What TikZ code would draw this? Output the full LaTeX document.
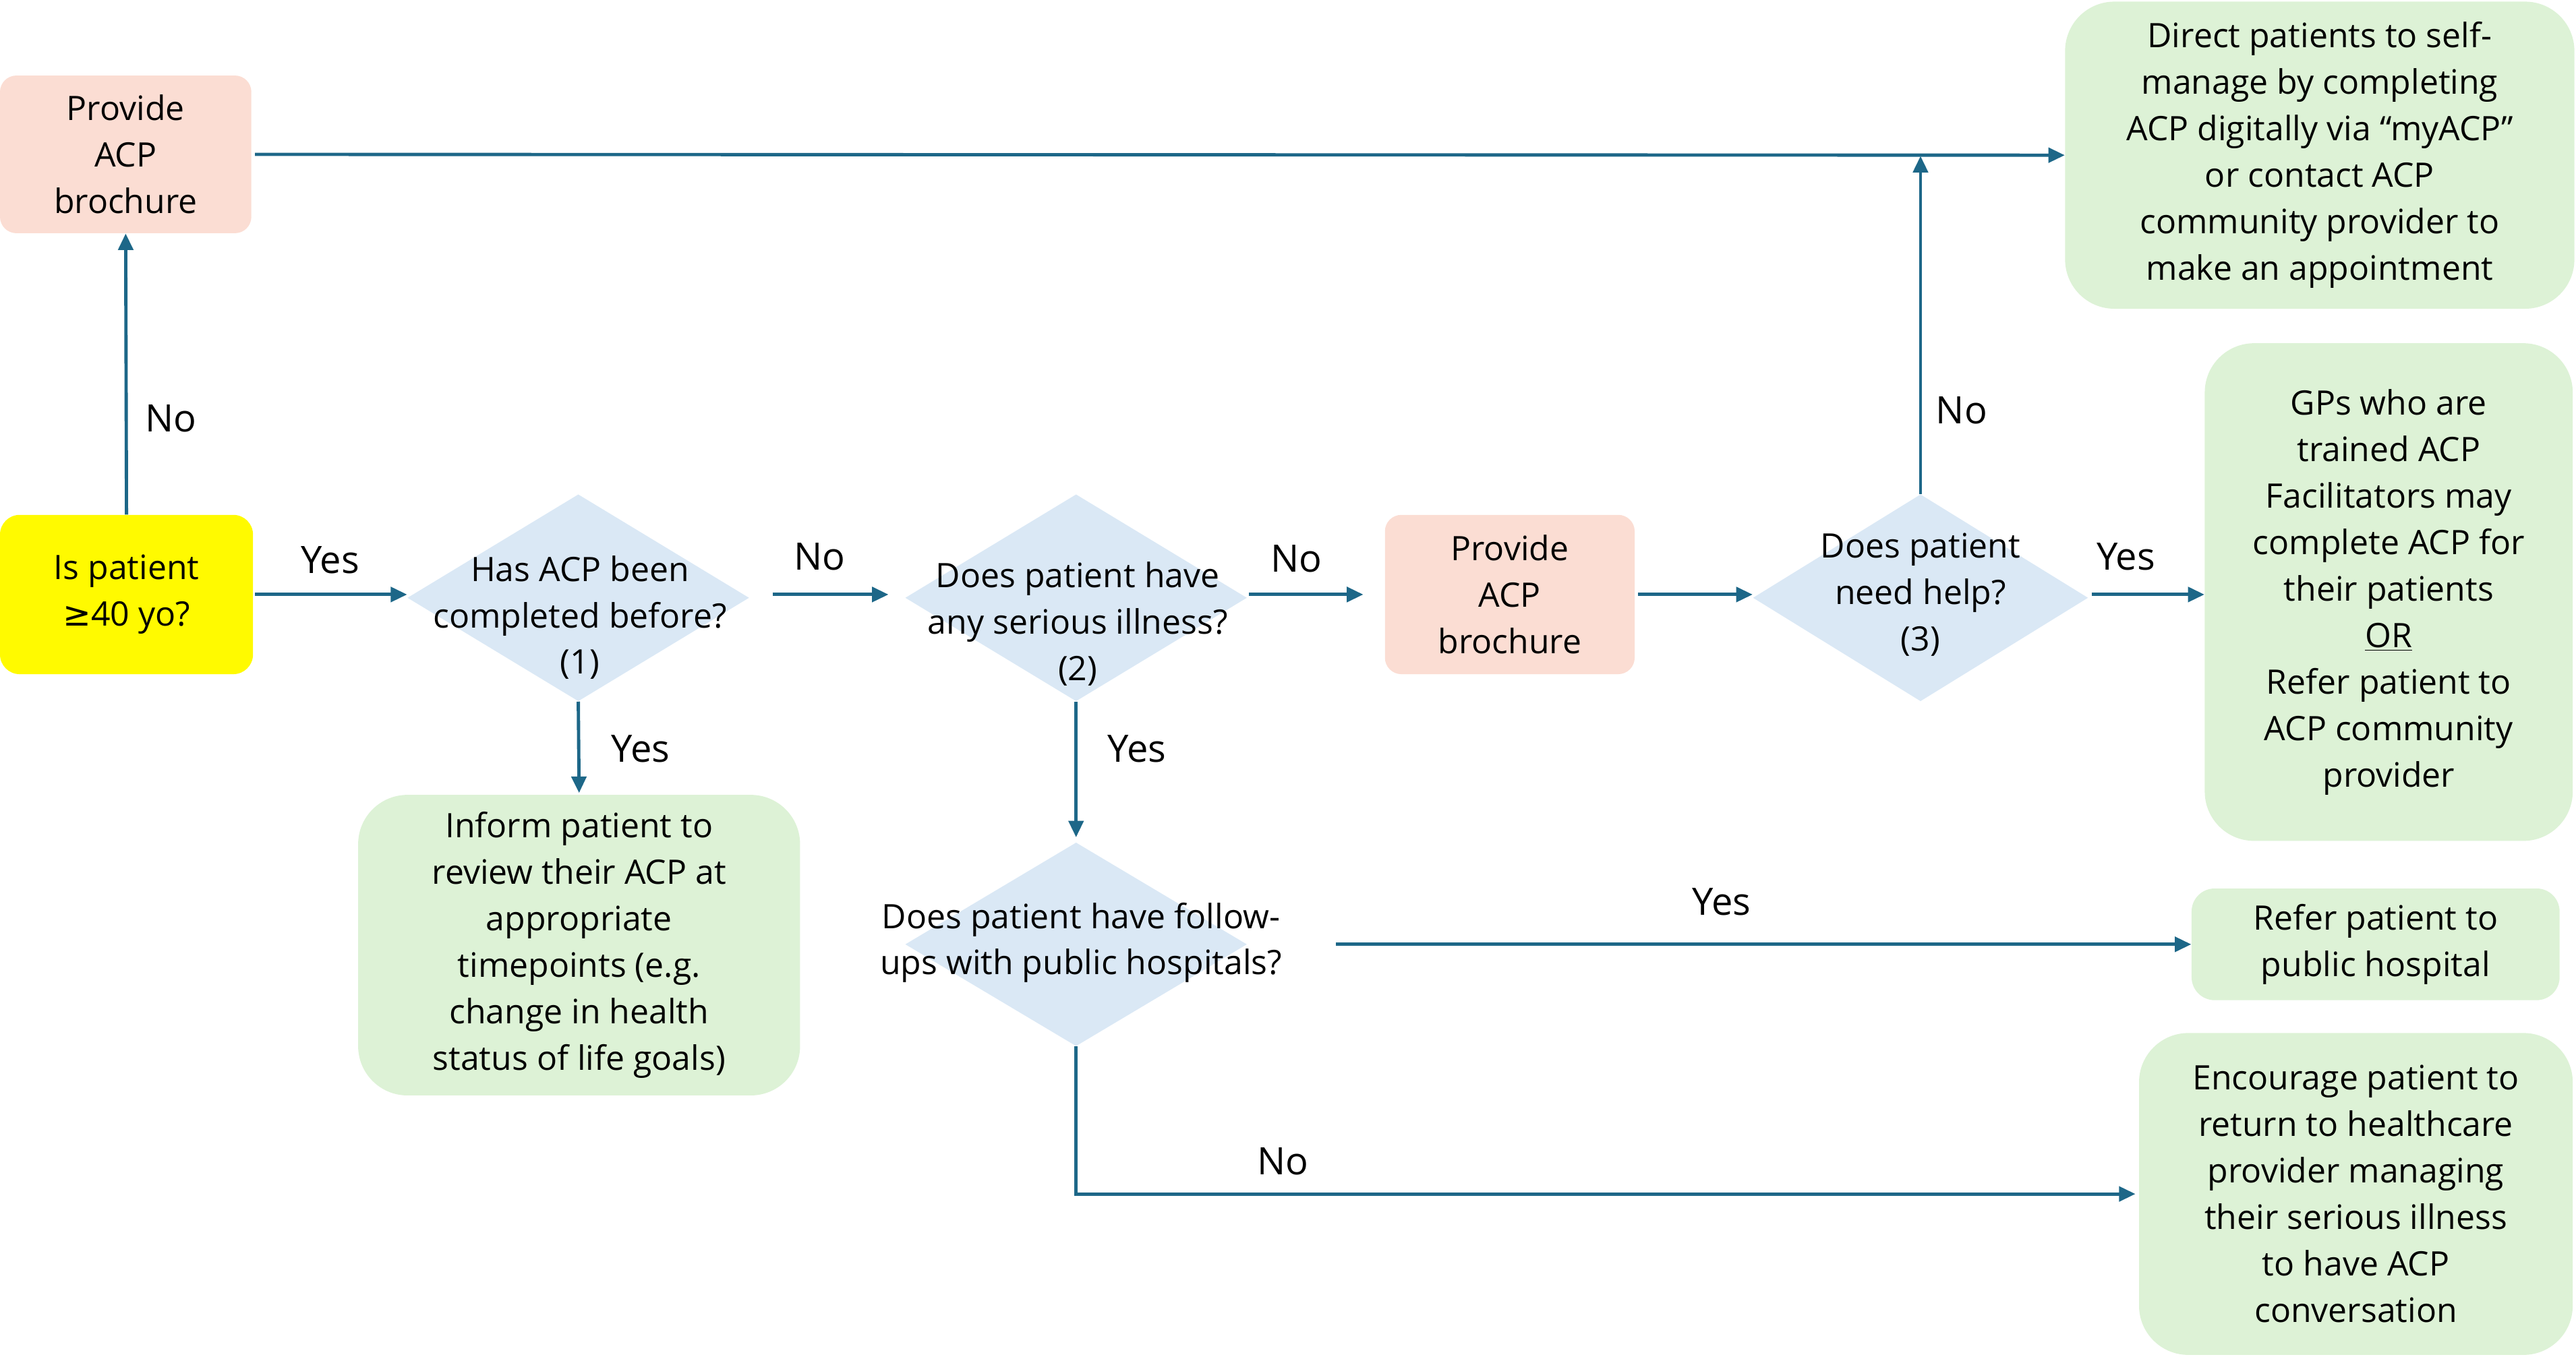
\documentclass[tikz,border=0pt]{standalone}
\usepackage{fontspec}
\setmainfont{Open Sans}
\newfontfamily\symf{DejaVu Sans}
\usetikzlibrary{shapes.geometric,arrows.meta}
\definecolor{pinkf}{HTML}{FBDDD3}
\definecolor{greenf}{HTML}{DDF2D6}
\definecolor{bluef}{HTML}{DAE8F5}
\definecolor{yellowf}{HTML}{FFFA00}
\definecolor{arrowc}{HTML}{1D6788}
\begin{document}
\begin{tikzpicture}[x=1pt,y=-1pt,
  txt/.style={font=\fontsize{20.5}{28.3}\selectfont, align=center, text=black},
  box/.style={txt, draw=none, inner sep=0pt},
  pinkbox/.style={box, fill=pinkf, rounded corners=10pt},
  greenbox/.style={box, fill=greenf, rounded corners=30pt},
  dia/.style={diamond, fill=bluef, draw=none, inner sep=0pt},
  dtext/.style={txt, inner sep=0pt},
  lbl/.style={font=\fontsize{23}{28}\selectfont, text=black, inner sep=0pt},
  arr/.style={draw=arrowc, line width=2pt, -{Triangle[length=10pt,width=9pt]}},
  ln/.style={draw=arrowc, line width=2pt}
]
\useasboundingbox (0,0) rectangle (1568,826);

% process boxes
\node[pinkbox, minimum width=153, minimum height=96] (br1) at (76.5,94) {Provide\\ACP\\brochure};
\node[box, fill=yellowf, rounded corners=12pt, minimum width=154, minimum height=97] (start) at (77,362) {Is patient\\{\symf ≥}40 yo?};
\node[pinkbox, minimum width=152, minimum height=97] (br2) at (919,362) {Provide\\ACP\\brochure};

\node[greenbox, minimum width=310, minimum height=187] (direct) at (1412,94.5)
  {Direct patients to self-\\manage by completing\\ACP digitally via “myACP”\\or contact ACP\\community provider to\\make an appointment};
\node[greenbox, minimum width=224, minimum height=303] (gp) at (1454,360.5)
  {GPs who are\\trained ACP\\Facilitators may\\complete ACP for\\their patients\\\underline{OR}\\Refer patient to\\ACP community\\provider};
\node[greenbox, rounded corners=14pt, minimum width=224, minimum height=68] (refer) at (1446,575)
  {Refer patient to\\public hospital};
\node[greenbox, minimum width=264, minimum height=196] (enc) at (1434,727)
  {Encourage patient to\\return to healthcare\\provider managing\\their serious illness\\to have ACP\\conversation};
\node[greenbox, minimum width=269, minimum height=183] (inform) at (352.5,575.5)
  {Inform patient to\\review their ACP at\\appropriate\\timepoints (e.g.\\change in health\\status of life goals)};

% decisions
\node[dia, minimum width=208, minimum height=126] (d1) at (352,364) {};
\node[dtext] (d1t) at (353,376) {Has ACP been\\completed before?\\(1)};
\node[dia, minimum width=208, minimum height=126] (d2) at (655,364) {};
\node[dtext] (d2t) at (656,380) {Does patient have\\any serious illness?\\(2)};
\node[dia, minimum width=204, minimum height=126] (d3) at (1169,364) {};
\node[dtext] (d3t) at (1169,362) {Does patient\\need help?\\(3)};
\node[dia, minimum width=208, minimum height=124] (d4) at (655,575) {};
\node[dtext] (d4t) at (658,574) {Does patient have follow-\\ups with public hospitals?};

% connectors
\draw[arr] (start.north) -- (br1.south);
\draw[arr, shorten <=1pt] (start.east) -- (start.east -| d1.west);
\draw[arr, shorten <=14pt, shorten >=10pt] (d1.east |- start.east) -- (start.east -| d2.west);
\draw[arr, shorten <=1pt, shorten >=13pt] (d2.east |- br2.west) -- (br2.west);
\draw[arr, shorten <=2pt] (br2.east) -- (br2.east -| d3.west);
\draw[arr, shorten <=2pt] (d3.east |- br2.east) -- (br2.east -| gp.west);
\draw[arr, shorten <=2pt] (br1.east) -- (direct.west);
\coordinate (j3) at (d3.north |- br1.east);
\draw[arr, shorten >=1pt] (d3.north) -- (j3);
\draw[arr, shorten >=1pt] (d1.south) -- (inform.north);
\draw[arr, shorten >=3pt] (d2.south) -- (d4.north);
\draw[arr, shorten <=54pt] (d4.east) -- (refer.west);
\draw[arr, shorten >=2pt] (d4.south) |- (enc.west);

% labels
\node[lbl] (l1) at (104,255) {No};
\node[lbl] (l2) at (201,341) {Yes};
\node[lbl] (l3) at (499,339) {No};
\node[lbl] (l4) at (789,340) {No};
\node[lbl] (l5) at (390,456) {Yes};
\node[lbl] (l6) at (692,456) {Yes};
\node[lbl] (l7) at (1194,250) {No};
\node[lbl] (l8) at (1294,339) {Yes};
\node[lbl] (l9) at (1048,549) {Yes};
\node[lbl] (l10) at (781,707) {No};
\end{tikzpicture}
\end{document}
